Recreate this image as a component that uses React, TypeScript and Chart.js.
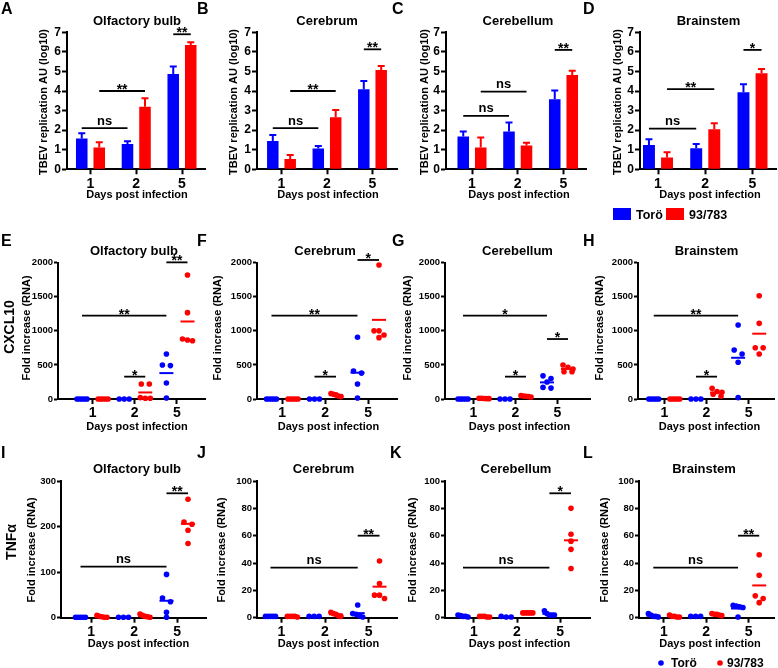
import React, { useEffect, useRef } from 'react';
import { Chart, registerables } from 'chart.js';

Chart.register(...registerables);

const FONT = '"Liberation Sans", Arial, Helvetica, sans-serif';
const BLUE = '#0000ff';
const RED = '#ff0000';
const INK = '#000000';

// ---------------- data ----------------
const dayLabels = ['1', '2', '5'];
const strainLabels = ['Torö', '93/783'];
const regionTitles = ['Olfactory bulb', 'Cerebrum', 'Cerebellum', 'Brainstem'];
const panelLetters = ['A', 'B', 'C', 'D', 'E', 'F', 'G', 'H', 'I', 'J', 'K', 'L'];
const xAxisTitle = 'Days post infection';
const tbevAxisTitle = 'TBEV replication AU (log10)';
const foldAxisTitle = 'Fold increase (RNA)';
const geneLabels = ['CXCL10', 'TNFα'];

// TBEV replication (log10): mean and SEM per day
const tbevOlfToro = [1.58, 1.29, 4.87];
const tbevOlfToroSem = [0.26, 0.14, 0.38];
const tbevOlf93 = [1.12, 3.2, 6.35];
const tbevOlf93Sem = [0.26, 0.43, 0.14];
const tbevCerToro = [1.45, 1.06, 4.09];
const tbevCerToroSem = [0.3, 0.13, 0.42];
const tbevCer93 = [0.53, 2.66, 5.08];
const tbevCer93Sem = [0.2, 0.37, 0.2];
const tbevCblToro = [1.67, 1.93, 3.58];
const tbevCblToroSem = [0.26, 0.46, 0.44];
const tbevCbl93 = [1.12, 1.21, 4.82];
const tbevCbl93Sem = [0.5, 0.15, 0.21];
const tbevBstToro = [1.24, 1.07, 3.94];
const tbevBstToroSem = [0.29, 0.22, 0.4];
const tbevBst93 = [0.6, 2.04, 4.91];
const tbevBst93Sem = [0.27, 0.31, 0.22];

// CXCL10 fold increase, per day (1, 2, 5), individual animals
const cxclOlfToro = [[1, 1, 1, 1, 1], [1, 1, 1], [660, 500, 490, 235, 15]];
const cxclOlf93 = [[1, 1, 1, 1, 1], [220, 220, 20, 10, 10], [1820, 1267, 880, 865, 855]];
const cxclCerToro = [[1, 1, 1, 1, 1], [1, 1, 1], [905, 410, 380, 220, 15]];
const cxclCer93 = [[1, 1, 1, 1, 1], [80, 70, 60, 45, 35], [1966, 1000, 1000, 940, 900]];
const cxclCblToro = [[1, 1, 1, 1, 1], [1, 1, 1], [340, 300, 250, 170, 160]];
const cxclCbl93 = [[12, 10, 8, 6, 5], [50, 45, 40, 35, 30], [500, 465, 440, 400, 400]];
const cxclBstToro = [[1, 1, 1, 1, 1], [1, 1, 1], [1085, 720, 660, 540, 20]];
const cxclBst93 = [[1, 1, 1, 1, 1], [156, 110, 100, 70, 40], [1516, 1110, 753, 753, 660]];

// TNFα fold increase
const tnfOlfToro = [[1, 1, 1, 1, 1], [1, 1, 1], [95, 43, 35, 12, 1]];
const tnfOlf93 = [[5, 3, 2, 1, 1], [8, 5, 3, 2, 1], [260, 210, 205, 192, 163]];
const tnfCerToro = [[1, 1, 1, 1, 1], [1, 1, 1], [9.3, 3, 2.5, 1.5, 0.5]];
const tnfCer93 = [[1, 1, 1, 1, 0.5], [4, 3, 2.5, 1.5, 1], [41.5, 25, 16.5, 16.5, 14]];
const tnfCblToro = [[1.5, 2, 1, 1, 0.5], [0.5, 1, 0.5], [5, 3, 2, 2, 2]];
const tnfCbl93 = [[1, 1, 0.5, 1, 0.5], [3.5, 3.5, 3.5, 3.5, 3.5], [80, 61, 56, 50, 36]];
const tnfBstToro = [[3, 2, 1, 1, 0.5], [1, 1, 1], [9, 8.5, 8, 7.5, 0.5]];
const tnfBst93 = [[1, 2, 0.5, 0.5, 1], [1.5, 2.5, 2.5, 3, 2], [46, 31, 16, 14, 11]];

// significance brackets: [from column, to column, y value, label]
// columns: 1 = Torö d1, 2 = 93/783 d1, 3 = Torö d2, 4 = 93/783 d2, 5 = Torö d5, 6 = 93/783 d5
type Sig = [number, number, number, string];
const sigTbevOlf: Sig[] = [[1, 3, 2.1, 'ns'], [2, 4, 4.0, '**'], [5, 6, 6.9, '**']];
const sigTbevCer: Sig[] = [[1, 3, 2.1, 'ns'], [2, 4, 4.0, '**'], [5, 6, 6.13, '**']];
const sigTbevCbl: Sig[] = [[1, 3, 2.73, 'ns'], [2, 4, 3.97, 'ns'], [5, 6, 6.1, '**']];
const sigTbevBst: Sig[] = [[1, 3, 2.08, 'ns'], [2, 4, 4.1, '**'], [5, 6, 6.1, '*']];
const sigCxclOlf: Sig[] = [[1, 5, 1222, '**'], [3, 4, 328, '*'], [5, 6, 2005, '**']];
const sigCxclCer: Sig[] = [[1, 5, 1222, '**'], [3, 4, 328, '*'], [5, 6, 2040, '*']];
const sigCxclCbl: Sig[] = [[1, 5, 1222, '*'], [3, 4, 328, '*'], [5, 6, 880, '*']];
const sigCxclBst: Sig[] = [[1, 5, 1222, '**'], [3, 4, 328, '*']];
const sigTnfOlf: Sig[] = [[1, 5, 112, 'ns'], [5, 6, 273, '**']];
const sigTnfCer: Sig[] = [[1, 5, 36.6, 'ns'], [5, 6, 60, '**']];
const sigTnfCbl: Sig[] = [[1, 5, 36.6, 'ns'], [5, 6, 91, '*']];
const sigTnfBst: Sig[] = [[1, 5, 36.6, 'ns'], [5, 6, 60, '**']];

// ---------------- panel specs ----------------
interface PanelSpec {
  kind: 'bar' | 'dot';
  yMax: number;
  yStep: number;
  toro: any;
  other: any;
  toroErr?: number[];
  otherErr?: number[];
  sig: Sig[];
  gene?: string;
  legend?: 'bar' | 'dot';
}

const PANELS: PanelSpec[] = [
  { kind: 'bar', yMax: 7, yStep: 1, toro: tbevOlfToro, other: tbevOlf93, toroErr: tbevOlfToroSem, otherErr: tbevOlf93Sem, sig: sigTbevOlf },
  { kind: 'bar', yMax: 7, yStep: 1, toro: tbevCerToro, other: tbevCer93, toroErr: tbevCerToroSem, otherErr: tbevCer93Sem, sig: sigTbevCer },
  { kind: 'bar', yMax: 7, yStep: 1, toro: tbevCblToro, other: tbevCbl93, toroErr: tbevCblToroSem, otherErr: tbevCbl93Sem, sig: sigTbevCbl },
  { kind: 'bar', yMax: 7, yStep: 1, toro: tbevBstToro, other: tbevBst93, toroErr: tbevBstToroSem, otherErr: tbevBst93Sem, sig: sigTbevBst, legend: 'bar' },
  { kind: 'dot', yMax: 2000, yStep: 500, toro: cxclOlfToro, other: cxclOlf93, sig: sigCxclOlf, gene: geneLabels[0] },
  { kind: 'dot', yMax: 2000, yStep: 500, toro: cxclCerToro, other: cxclCer93, sig: sigCxclCer },
  { kind: 'dot', yMax: 2000, yStep: 500, toro: cxclCblToro, other: cxclCbl93, sig: sigCxclCbl },
  { kind: 'dot', yMax: 2000, yStep: 500, toro: cxclBstToro, other: cxclBst93, sig: sigCxclBst },
  { kind: 'dot', yMax: 300, yStep: 100, toro: tnfOlfToro, other: tnfOlf93, sig: sigTnfOlf, gene: geneLabels[1] },
  { kind: 'dot', yMax: 100, yStep: 20, toro: tnfCerToro, other: tnfCer93, sig: sigTnfCer },
  { kind: 'dot', yMax: 100, yStep: 20, toro: tnfCblToro, other: tnfCbl93, sig: sigTnfCbl },
  { kind: 'dot', yMax: 100, yStep: 20, toro: tnfBstToro, other: tnfBst93, sig: sigTnfBst, legend: 'dot' },
];

// ---------------- layout (page pixels) ----------------
const COLS = [
  { left: 0, width: 212 },
  { left: 193, width: 210 },
  { left: 385, width: 211 },
  { left: 580, width: 198 },
];
const ROWS = [
  { top: 0, height: 225, plotTop: 32.3, plotBottom: 169.3, letterY: 14, titleY: 25, yTitleY: 102, daysY: 198, tickSize: 12, yTick: 5, yPad: 1, geneX: 0, geneY: 0 },
  { top: 225, height: 220, plotTop: 262.7, plotBottom: 399, letterY: 246, titleY: 255, yTitleY: 328, daysY: 429.5, tickSize: 9.5, yTick: 4, yPad: 1, geneX: 10, geneY: 327 },
  { top: 445, height: 223, plotTop: 481, plotBottom: 617.7, letterY: 458, titleY: 473, yTitleY: 550, daysY: 646.5, tickSize: 9.5, yTick: 4, yPad: 1, geneX: 12, geneY: 542 },
];
// plotLeft, plotRight, first column centre, column spacing, letterX, titleX, yTitleX, daysX
const GEOM: number[][] = [
  [67, 205, 90.5, 45.75, 1, 137, 44, 137],
  [257, 397, 281.5, 45.5, 197, 327, 234, 328],
  [446, 586, 472, 45.75, 392, 518, 425, 519],
  [640, 776, 658, 47.25, 583, 708.5, 618, 710],
  [58, 205, 82, 21.1, 1, 134, 27, 137],
  [257, 397, 271.5, 21.5, 197, 325, 218, 328.5],
  [445, 590, 463, 21, 392, 517.5, 408, 519.5],
  [638, 776, 654, 21.4, 583, 706.5, 600, 709.5],
  [61, 206, 80.5, 21.5, 1, 137, 32, 138.5],
  [257, 397, 270.5, 21.8, 197, 323.5, 222, 328.5],
  [445, 590, 463, 21.6, 390, 516, 413, 519.5],
  [639, 776, 653.5, 21.5, 583, 704, 605, 710],
];

// horizontal spreading of points with similar values (pixels)
function spreadOffsets(values: number[], pxPerUnit: number): number[] {
  const order = values.map((_, i) => i).sort((a, b) => values[b] - values[a]);
  const offs = new Array(values.length).fill(0);
  let bin: number[] = [];
  const flush = () => {
    const k = bin.length;
    const step = k > 1 ? Math.min(8, 10 / (k - 1)) : 0;
    bin.forEach((id, j) => {
      offs[id] = (j - (k - 1) / 2) * step;
    });
    bin = [];
  };
  for (const id of order) {
    if (bin.length && Math.abs(values[bin[0]] - values[id]) * pxPerUnit > 4.5) flush();
    bin.push(id);
  }
  flush();
  return offs;
}

function drawText(ctx: CanvasRenderingContext2D, s: string, x: number, y: number, size: number,
  align: CanvasTextAlign = 'center', baseline: CanvasTextBaseline = 'alphabetic', rotate = false) {
  ctx.save();
  ctx.font = `bold ${size}px ${FONT}`;
  ctx.fillStyle = INK;
  ctx.textAlign = align;
  ctx.textBaseline = baseline;
  if (rotate) {
    ctx.translate(x, y);
    ctx.rotate(-Math.PI / 2);
    ctx.fillText(s, 0, 0);
  } else {
    ctx.fillText(s, x, y);
  }
  ctx.restore();
}

function createChart(canvas: HTMLCanvasElement, index: number) {
  const spec = PANELS[index];
  const row = ROWS[Math.floor(index / 4)];
  const col = COLS[index % 4];
  const [plotL, plotR, c1, s, letterX, titleX, yTitleX, daysX] = GEOM[index];
  const isBar = spec.kind === 'bar';
  const xMin = 1 - (c1 - plotL) / s;
  const xMax = 1 + (plotR - c1) / s;
  const pxPerY = (row.plotBottom - row.plotTop) / spec.yMax;
  const tickVals = isBar ? [1, 2, 3] : [1.5, 3.5, 5.5];
  const colors = [BLUE, RED];
  const groups = [spec.toro, spec.other];

  let datasets: any[];
  if (isBar) {
    datasets = groups.map((vals: number[], k) => ({
      label: strainLabels[k],
      data: vals.map((v, i) => ({ x: i + 1, y: v })),
      backgroundColor: colors[k],
      borderWidth: 0,
      categoryPercentage: 0.765,
      barPercentage: 0.66,
    }));
  } else {
    datasets = groups.map((g: number[][], k) => {
      const pts: { x: number; y: number }[] = [];
      g.forEach((vals, d) => {
        const column = 2 * d + 1 + k;
        const offs = spreadOffsets(vals, pxPerY);
        vals.forEach((v, j) => pts.push({ x: column + offs[j] / s, y: v }));
      });
      return {
        label: strainLabels[k],
        data: pts,
        pointRadius: 2.8,
        pointBackgroundColor: colors[k],
        pointBorderWidth: 0,
        showLine: false,
        clip: false,
      };
    });
  }

  const ox = col.left;
  const oy = row.top;

  const decor = {
    id: 'decor',
    afterDraw(chart: any) {
      const ctx: CanvasRenderingContext2D = chart.ctx;
      const xs = chart.scales.x;
      const ys = chart.scales.y;
      const colPx = (c: number) => {
        if (isBar) {
          const k = (c - 1) % 2;
          const d = Math.floor((c - 1) / 2);
          return chart.getDatasetMeta(k).data[d].x;
        }
        return xs.getPixelForValue(c);
      };
      ctx.save();
      ctx.lineCap = 'butt';
      if (isBar) {
        [spec.toroErr!, spec.otherErr!].forEach((errs, k) => {
          const vals: number[] = groups[k];
          chart.getDatasetMeta(k).data.forEach((bar: any, i: number) => {
            const y0 = ys.getPixelForValue(vals[i]);
            const yt = ys.getPixelForValue(vals[i] + errs[i]);
            ctx.strokeStyle = colors[k];
            ctx.lineWidth = 2;
            ctx.beginPath();
            ctx.moveTo(bar.x, y0);
            ctx.lineTo(bar.x, yt);
            ctx.moveTo(bar.x - 3.5, yt);
            ctx.lineTo(bar.x + 3.5, yt);
            ctx.stroke();
          });
        });
      } else {
        groups.forEach((g: number[][], k) => {
          g.forEach((vals, d) => {
            const mean = vals.reduce((a, b) => a + b, 0) / vals.length;
            const x = xs.getPixelForValue(2 * d + 1 + k);
            const y = ys.getPixelForValue(mean);
            ctx.strokeStyle = colors[k];
            ctx.lineWidth = 2;
            ctx.beginPath();
            ctx.moveTo(x - 7, y);
            ctx.lineTo(x + 7, y);
            ctx.stroke();
          });
        });
      }
      spec.sig.forEach(([a, b, yv, lab]) => {
        const x1 = colPx(a);
        const x2 = colPx(b);
        const y = ys.getPixelForValue(yv);
        ctx.strokeStyle = INK;
        ctx.lineWidth = 1.8;
        ctx.beginPath();
        ctx.moveTo(x1, y);
        ctx.lineTo(x2, y);
        ctx.stroke();
        if (lab === 'ns') drawText(ctx, lab, (x1 + x2) / 2, y - 3.5, 13);
        else drawText(ctx, lab, (x1 + x2) / 2, y + 3, 14);
      });
      drawText(ctx, panelLetters[index], letterX - ox, row.letterY - oy, 16, 'left');
      drawText(ctx, regionTitles[index % 4], titleX - ox, row.titleY - oy, 13);
      drawText(ctx, isBar ? tbevAxisTitle : foldAxisTitle, yTitleX - ox, row.yTitleY - oy, 11, 'center', 'middle', true);
      drawText(ctx, xAxisTitle, daysX - ox, row.daysY - oy, 11);
      if (spec.gene) drawText(ctx, spec.gene, row.geneX - ox, row.geneY - oy, 14, 'center', 'middle', true);
      if (spec.legend === 'bar') {
        ctx.fillStyle = BLUE;
        ctx.fillRect(613 - ox, 208 - oy, 18, 12);
        drawText(ctx, strainLabels[0], 636 - ox, 219 - oy, 12.5, 'left');
        ctx.fillStyle = RED;
        ctx.fillRect(666 - ox, 208 - oy, 18, 12);
        drawText(ctx, strainLabels[1], 689 - ox, 219 - oy, 12.5, 'left');
      } else if (spec.legend === 'dot') {
        ctx.fillStyle = BLUE;
        ctx.beginPath();
        ctx.arc(661 - ox, 663 - oy, 2.8, 0, Math.PI * 2);
        ctx.fill();
        drawText(ctx, strainLabels[0], 671 - ox, 667 - oy, 12, 'left');
        ctx.fillStyle = RED;
        ctx.beginPath();
        ctx.arc(720 - ox, 663 - oy, 2.8, 0, Math.PI * 2);
        ctx.fill();
        drawText(ctx, strainLabels[1], 727 - ox, 667 - oy, 12, 'left');
      }
      ctx.restore();
    },
  };

  const gridCfg = {
    display: true,
    drawOnChartArea: false,
    drawTicks: true,
    tickLength: 5,
    tickWidth: 2,
    tickColor: INK,
    color: INK,
    offset: false,
  };
  const borderCfg = { display: true, color: INK, width: 2 };

  return new Chart(canvas, {
    type: isBar ? 'bar' : 'scatter',
    data: { datasets },
    plugins: [decor],
    options: {
      responsive: false,
      animation: false,
      devicePixelRatio: 1,
      events: [],
      layout: {
        padding: { top: row.plotTop - row.top, right: col.left + col.width - plotR, left: 0, bottom: 0 },
      },
      plugins: { legend: { display: false }, tooltip: { enabled: false }, title: { display: false } },
      scales: {
        x: {
          type: 'linear',
          min: xMin,
          max: xMax,
          bounds: 'data',
          offset: false,
          afterBuildTicks: (axis: any) => {
            axis.ticks = tickVals.map((v) => ({ value: v }));
          },
          afterFit: (scale: any) => {
            scale.height = row.top + row.height - row.plotBottom;
          },
          grid: gridCfg,
          border: borderCfg,
          ticks: {
            color: INK,
            font: { family: FONT, size: 14, weight: 'bold' },
            padding: 1,
            maxRotation: 0,
            minRotation: 0,
            autoSkip: false,
            callback: (_v: any, i: number) => dayLabels[i],
          },
        },
        y: {
          type: 'linear',
          min: 0,
          max: spec.yMax,
          afterFit: (scale: any) => {
            scale.width = plotL - col.left;
          },
          grid: { ...gridCfg, tickLength: row.yTick },
          border: borderCfg,
          ticks: {
            stepSize: spec.yStep,
            color: INK,
            font: { family: FONT, size: row.tickSize, weight: 'bold' },
            padding: row.yPad,
            callback: (v: any) => String(v),
          },
        },
      },
    } as any,
  });
}

function Panel({ index }: { index: number }) {
  const ref = useRef<HTMLCanvasElement>(null);
  const row = ROWS[Math.floor(index / 4)];
  const col = COLS[index % 4];
  useEffect(() => {
    const chart = createChart(ref.current as HTMLCanvasElement, index);
    return () => chart.destroy();
  }, [index]);
  return (
    <canvas
      ref={ref}
      width={col.width}
      height={row.height}
      style={{ position: 'absolute', left: col.left, top: row.top, width: col.width, height: row.height }}
    />
  );
}

export default function App() {
  return (
    <div style={{ position: 'absolute', left: 0, top: 0, width: 778, height: 668, background: '#ffffff', overflow: 'hidden' }}>
      {PANELS.map((_, i) => (
        <Panel key={i} index={i} />
      ))}
    </div>
  );
}
